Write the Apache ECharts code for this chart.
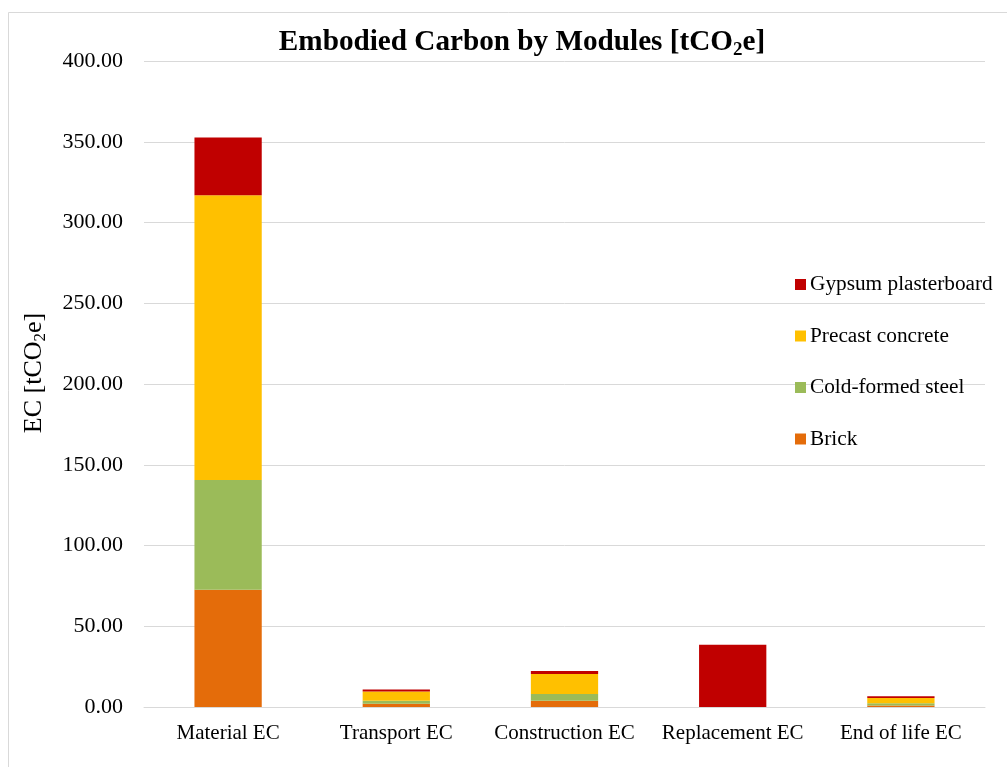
<!DOCTYPE html>
<html>
<head>
<meta charset="utf-8">
<script src="https://cdn.jsdelivr.net/npm/echarts@6/dist/echarts.min.js"></script>
<style>
  html, body { margin: 0; padding: 0; background: #fff; }
  #chart { width: 1007px; height: 767px; }
</style>
</head>
<body>
<div id="chart"></div>
<script>
// Life-cycle modules on the x axis
const modules = ['Material EC', 'Transport EC', 'Construction EC', 'Replacement EC', 'End of life EC'];

// Embodied carbon per material, tCO2e
const brick    = [72.6, 2.0, 3.9, 0, 1.0];
const steel    = [68.0, 1.8, 4.1, 0, 1.3];
const precast  = [176.3, 5.8, 12.4, 0, 3.2];
const gypsum   = [35.7, 1.2, 1.9, 38.5, 1.2];

const seriesNames = ['Brick', 'Cold-formed steel', 'Precast concrete', 'Gypsum plasterboard'];
const seriesColors = ['#E46C0A', '#9BBB59', '#FFC000', '#C00000'];
const seriesValues = [brick, steel, precast, gypsum];

const FONT = '"Liberation Serif", "Times New Roman", serif';

const chart = echarts.init(document.getElementById('chart'), null, { renderer: 'canvas' });

chart.setOption({
  backgroundColor: '#fff',
  animation: false,
  textStyle: { fontFamily: FONT, color: '#000' },
  graphic: [{
    type: 'rect',
    shape: { x: 8.5, y: 12.5, width: 1100, height: 900 },
    style: { fill: 'none', stroke: '#d9d9d9', lineWidth: 1 },
    silent: true
  }],
  title: {
    text: '{n|Embodied Carbon by Modules [tCO}{s|2}{n|e]}',
    left: 517,
    textAlign: 'center',
    top: 19,
    textStyle: {
      rich: {
        n: { fontFamily: FONT, fontWeight: 'bold', fontSize: 29.2, color: '#000', lineHeight: 36 },
        s: { fontFamily: FONT, fontWeight: 'bold', fontSize: 19, color: '#000', lineHeight: 14, verticalAlign: 'bottom' }
      }
    }
  },
  legend: {
    orient: 'vertical',
    left: 790,
    top: 269,
    itemWidth: 11,
    itemHeight: 11,
    itemGap: 30.5,
    icon: 'rect',
    data: ['Gypsum plasterboard', 'Precast concrete', 'Cold-formed steel', 'Brick'],
    textStyle: { fontFamily: FONT, fontSize: 21.3, color: '#000', padding: [0, 0, 0, -1] }
  },
  grid: { left: 144, right: 22, top: 61, bottom: 60, containLabel: false },
  xAxis: {
    type: 'category',
    data: modules,
    axisLine: { lineStyle: { color: '#d9d9d9', width: 1 } },
    axisTick: { show: false },
    axisLabel: { fontFamily: FONT, fontSize: 21, color: '#000', margin: 16, interval: 0 }
  },
  yAxis: {
    type: 'value',
    min: 0,
    max: 400,
    interval: 50,
    name: '{n|EC [tCO}{s|2}{n|e]}',
    nameLocation: 'middle',
    nameRotate: 90,
    nameGap: 95,
    nameTextStyle: {
      padding: [0, 0, 0, 22],
      rich: {
        n: { fontFamily: FONT, fontSize: 26, color: '#000', lineHeight: 30 },
        s: { fontFamily: FONT, fontSize: 17, color: '#000', lineHeight: 11, verticalAlign: 'bottom' }
      }
    },
    axisLine: { show: false },
    axisTick: { show: false },
    splitLine: { lineStyle: { color: '#d9d9d9', width: 1 } },
    axisLabel: {
      fontFamily: FONT, fontSize: 22, color: '#000', margin: 21,
      formatter: v => v.toFixed(2)
    }
  },
  series: seriesNames.map((name, i) => ({
    name,
    type: 'bar',
    stack: 'ec',
    barWidth: '40%',
    itemStyle: { color: seriesColors[i] },
    data: seriesValues[i]
  }))
});
</script>
</body>
</html>
